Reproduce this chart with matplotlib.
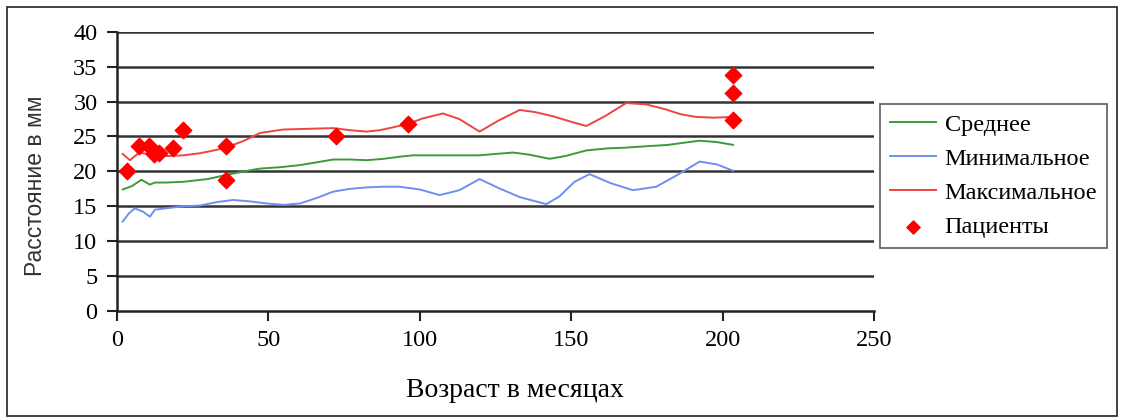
import numpy as np
import matplotlib.pyplot as plt
from matplotlib.patches import Rectangle

# возраст (мес.) и значения кривых
mean_x = [1.9, 5.0, 8.1, 10.9, 12.5, 16.0, 21.9, 30.0, 36.2, 42.0, 47.2, 54.0, 60.4, 66.0, 71.4,
          77.0, 82.4, 88.0, 93.3, 97.7, 105.0, 112.0, 119.7, 125.0, 130.7, 136.0, 142.8, 148.0,
          154.9, 162.0, 168.0, 174.7, 182.0, 187.0, 192.3, 198.0, 203.3]
mean_y = [17.4, 17.9, 18.8, 18.1, 18.4, 18.4, 18.5, 18.9, 19.5, 20.0, 20.4, 20.6, 20.9, 21.3, 21.7,
          21.7, 21.6, 21.8, 22.1, 22.3, 22.3, 22.3, 22.3, 22.5, 22.7, 22.4, 21.8, 22.2,
          23.0, 23.3, 23.4, 23.6, 23.8, 24.1, 24.4, 24.2, 23.8]

min_x = [1.9, 4.0, 5.9, 8.7, 10.9, 12.5, 16.0, 21.9, 27.4, 33.0, 38.3, 44.0, 49.4, 55.0, 60.4,
         66.0, 71.4, 77.0, 82.4, 88.0, 93.3, 100.0, 106.5, 113.0, 119.7, 126.0, 133.0, 141.7,
         146.0, 151.0, 156.0, 163.0, 170.3, 178.0, 185.0, 192.3, 198.0, 203.3]
min_y = [12.8, 14.0, 14.7, 14.2, 13.5, 14.5, 14.7, 15.0, 15.1, 15.6, 15.9, 15.7, 15.4, 15.2, 15.4,
         16.2, 17.1, 17.5, 17.7, 17.8, 17.8, 17.4, 16.6, 17.3, 18.9, 17.6, 16.3, 15.3,
         16.4, 18.5, 19.6, 18.3, 17.3, 17.8, 19.5, 21.4, 21.0, 20.1]

max_x = [1.9, 4.3, 7.4, 10.9, 16.4, 22.0, 27.4, 32.0, 36.0, 42.0, 47.2, 54.9, 63.0, 71.4, 77.0,
         82.4, 86.7, 91.0, 96.0, 101.0, 107.6, 113.0, 119.7, 126.0, 132.9, 138.0, 143.9, 150.0,
         154.9, 161.0, 168.1, 174.7, 181.0, 186.0, 191.2, 197.0, 203.3]
max_y = [22.5, 21.6, 22.7, 22.4, 22.2, 22.3, 22.6, 23.0, 23.4, 24.4, 25.5, 26.0, 26.1, 26.2, 25.9,
         25.7, 25.9, 26.3, 26.8, 27.6, 28.3, 27.5, 25.7, 27.3, 28.8, 28.5, 27.9, 27.1,
         26.5, 27.9, 29.8, 29.6, 28.9, 28.2, 27.8, 27.7, 27.8]

pat_x = [3.4, 7.4, 10.6, 12.2, 13.9, 18.4, 21.7, 36.0, 36.0, 72.2, 96.1, 203.3, 203.3, 203.3]
pat_y = [20.1, 23.6, 23.6, 22.5, 22.7, 23.3, 25.9, 23.6, 18.8, 25.1, 26.8, 33.8, 31.2, 27.3]

serif = 'Liberation Serif'

fig = plt.figure(figsize=(11.24, 4.19), dpi=100)
ax = fig.add_axes([0.104, 0.258, 0.674, 0.666])

# рамка вокруг всего рисунка
fig.patches.append(Rectangle((0.006, 0.008), 0.988, 0.975, transform=fig.transFigure,
                             fill=False, edgecolor='#222222', linewidth=1.2))

for yv in range(5, 45, 5):
    ax.axhline(yv, color='#333333', linewidth=1.8, zorder=1)

ax.plot(mean_x, mean_y, color='#3c9a3c', linewidth=1.4, label='Среднее', zorder=3)
ax.plot(min_x, min_y, color='#6f8ff0', linewidth=1.4, label='Минимальное', zorder=3)
ax.plot(max_x, max_y, color='#ee4444', linewidth=1.4, label='Максимальное', zorder=3)
ax.scatter(pat_x, pat_y, marker='D', s=70, color='#ff0000', label='Пациенты', zorder=4)

ax.set_xlim(0, 250)
ax.set_ylim(0, 40)
ax.set_xticks(range(0, 251, 50))
ax.set_yticks(range(0, 41, 5))
ax.spines['top'].set_visible(False)
ax.spines['right'].set_visible(False)
for s in ['left', 'bottom']:
    ax.spines[s].set_linewidth(1.8)
    ax.spines[s].set_color('#222222')
ax.tick_params(direction='out', length=7, width=1.5, color='#222222', pad=7)
for lab in ax.get_xticklabels() + ax.get_yticklabels():
    lab.set_fontfamily(serif)
    lab.set_fontsize(17.5)

ax.set_xlabel('Возраст в месяцах', fontfamily=serif, fontsize=20)
ax.xaxis.set_label_coords(0.525, -0.24)
ax.set_ylabel('Расстояние в мм', fontfamily='Liberation Sans', fontsize=16.5, color='#333333')
ax.yaxis.set_label_coords(-0.092, 0.45)

leg = ax.legend(loc='upper left', bbox_to_anchor=(0.783, 0.752), bbox_transform=fig.transFigure,
                prop={'family': serif, 'size': 17.5}, frameon=True, fancybox=False,
                handlelength=1.9, handletextpad=0.35, labelspacing=0.5, borderpad=0.4,
                borderaxespad=0, scatterpoints=1, markerscale=0.8)
leg.get_frame().set_edgecolor('#333333')
leg.get_frame().set_linewidth(1.2)

fig.savefig('out.png', dpi=100)
